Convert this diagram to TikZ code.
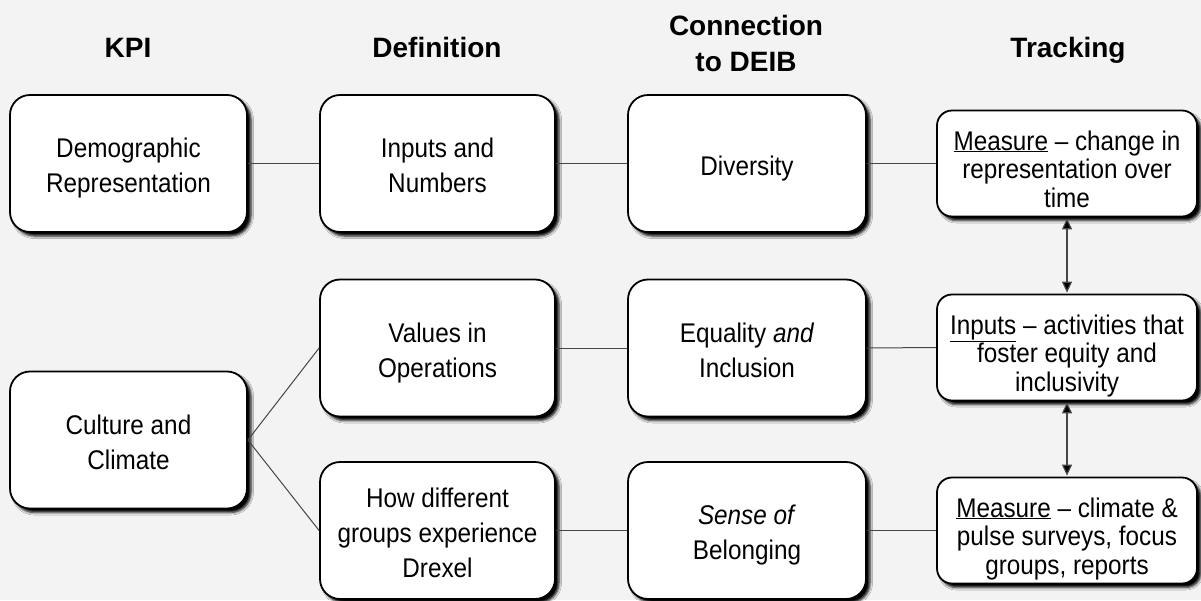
\documentclass[tikz,border=0pt]{standalone}
\usepackage{fontspec}
\setmainfont{Liberation Sans}
\newfontfamily\narrowfont[FakeStretch=0.9]{Liberation Sans}
\usetikzlibrary{shadows,shadows.blur,arrows.meta}
\definecolor{bgc}{RGB}{243,243,243}
\definecolor{linec}{RGB}{70,70,70}
\newcommand\boxtop{\rule{0pt}{29pt}}
\newcommand\tracktop{\rule{0pt}{36pt}}
\tikzset{
  box/.style={draw=black, line width=1.8pt, fill=white, rounded corners=20pt,
    align=center, inner sep=2pt, font=\narrowfont\fontsize{27}{35}\selectfont,
    blur shadow={shadow xshift=4pt, shadow yshift=-4pt, shadow blur radius=2.5pt, shadow opacity=100},
    execute at end node={\rule[-6pt]{0pt}{6pt}}},
  bigbox/.style={box, minimum width=237pt, minimum height=137pt},
  trackbox/.style={box, rounded corners=15pt, minimum width=260pt, minimum height=106pt,
    font=\narrowfont\fontsize{27}{28.5}\selectfont},
  header/.style={align=center, font=\bfseries\fontsize{28}{36}\selectfont},
  link/.style={draw=linec, line width=1pt},
  dlink/.style={draw=linec, line width=1.2pt, {Triangle[length=11pt,width=10pt,fill=black]}-{Triangle[length=11pt,width=10pt,fill=black]}, shorten <=1pt, shorten >=1pt}
}
\begin{document}
\begin{tikzpicture}[x=1pt,y=-1pt]
\fill[bgc] (0,0) rectangle (1201,600);
\useasboundingbox (0,0) rectangle (1201,600);

\node[header, anchor=base] (hk) at (128,57) {KPI};
\node[header, anchor=base] (hd) at (437,57) {Definition};
\node[header] (hc) at (746,43) {Connection\\to DEIB};
\node[header, anchor=base] (ht) at (1068,57) {Tracking};

\node[bigbox] (k1) at (128.5,163.5) {\boxtop Demographic\\Representation};
\node[bigbox] (k2) at (128.5,440) {\boxtop Culture and\\Climate};

\node[bigbox, minimum width=235pt] (d1) at (437.5,163.5) {\boxtop Inputs and\\Numbers};
\node[bigbox, minimum width=235pt] (d2) at (437.5,348) {\boxtop Values in\\Operations};
\node[bigbox, minimum width=235pt] (d3) at (437.5,530.5) {\boxtop How different\\groups experience\\Drexel};

\node[bigbox, minimum width=238pt] (c1) at (747,163.5) {\boxtop Diversity};
\node[bigbox, minimum width=238pt] (c2) at (747,348) {\boxtop Equality \textit{and}\\Inclusion};
\node[bigbox, minimum width=238pt] (c3) at (747,530.5) {\boxtop\textit{Sense of}\\Belonging};

\node[trackbox] (t1) at (1067,163.5) {\tracktop\underline{Measure} – change in\\representation over\\time};
\node[trackbox] (t2) at (1067,347.5) {\tracktop\underline{Inputs} – activities that\\foster equity and\\inclusivity};
\node[trackbox] (t3) at (1067,530.5) {\tracktop\underline{Measure} – climate \&\\pulse surveys, focus\\groups, reports};

\draw[link] (k1.east) -- (d1.west);
\draw[link] (d1.east) -- (c1.west);
\draw[link] (c1.east) -- (t1.west);
\draw[link] (k2.east) -- (d2.west);
\draw[link] (k2.east) -- (d3.west);
\draw[link] (d2.east) -- (c2.west);
\draw[link] (c2.east) -- (t2.west);
\draw[link] (d3.east) -- (c3.west);
\draw[link] (c3.east) -- (t3.west);

\draw[dlink] (t1.south) -- (t2.north);
\draw[dlink] (t2.south) -- (t3.north);
\end{tikzpicture}
\end{document}
